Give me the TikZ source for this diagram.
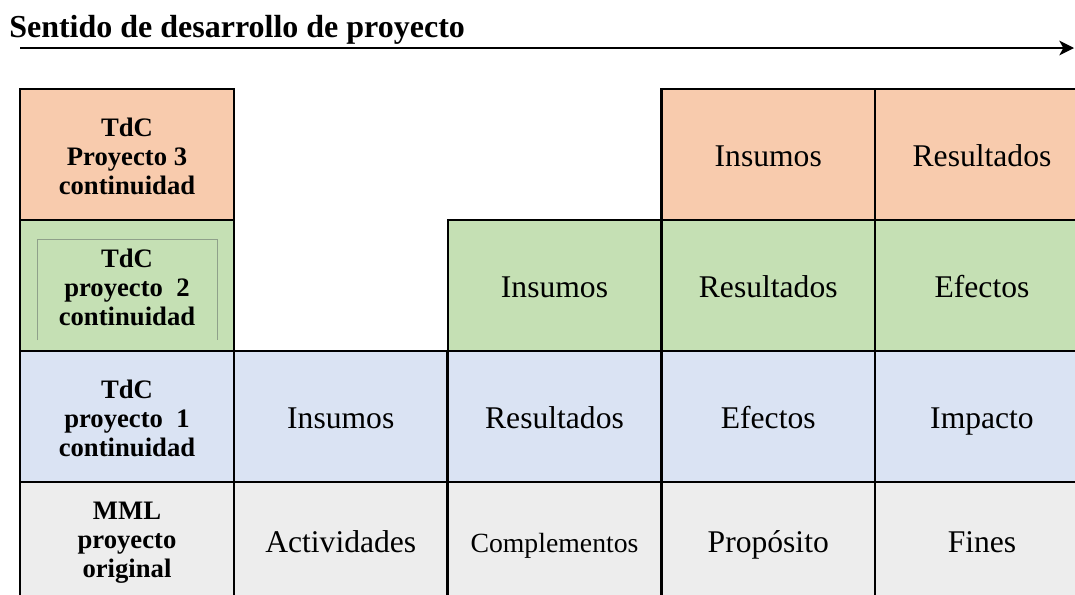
\documentclass[tikz,border=0pt]{standalone}
\usepackage{fontspec}
\setmainfont{Liberation Serif}
\usetikzlibrary{arrows.meta}
\definecolor{peach}{HTML}{F8CBAD}
\definecolor{lgreen}{HTML}{C5E0B4}
\definecolor{lblue}{HTML}{DAE3F3}
\definecolor{lgray}{HTML}{EDEDED}
\definecolor{framegray}{HTML}{8FA08A}
\begin{document}
\begin{tikzpicture}[x=0.75pt,y=-0.75pt,
  cell/.style={draw=black, line width=1.7pt, minimum width=160.3pt, minimum height=98.25pt,
    inner sep=0pt, outer sep=0pt, align=center, text height=22pt, text depth=4pt,
    font=\fontsize{23.7}{28}\selectfont},
  lowcell/.style={cell, minimum height=87pt},
  labtext/.style={inner sep=0pt, align=center, font=\fontsize{20}{21.9}\selectfont\bfseries},
  small/.style={font=\fontsize{20.8}{25}\selectfont},
]
\useasboundingbox (0,0) rectangle (1075,594);
\node[anchor=base west, font=\fontsize{24}{28}\selectfont\bfseries, inner sep=0pt] (title) at (9,37) {Sentido de desarrollo de proyecto};
\coordinate (a0) at (20,48);
\coordinate (a1) at (1074,48);
\draw[line width=1.1pt, -{Stealth[length=11pt,width=11pt,inset=3pt]}] (a0) -- (a1);
\begin{scope}
\clip (0,60) rectangle (1075,594);
% row 1 (orange)
\node[cell, fill=peach] (o1) at (127,154.5) {};
\node[cell, fill=peach] (o4) at (768.25,154.5) {Insumos};
\node[cell, fill=peach] (o5) at (982,154.5) {Resultados};
% row 2 (green)
\node[cell, fill=lgreen] (g1) at (127,285.5) {};
\node[cell, fill=lgreen] (g3) at (554.5,285.5) {Insumos};
\node[cell, fill=lgreen] (g4) at (768.25,285.5) {Resultados};
\node[cell, fill=lgreen] (g5) at (982,285.5) {Efectos};
% row 3 (blue)
\node[cell, fill=lblue] (b1) at (127,416.5) {};
\node[cell, fill=lblue] (b2) at (340.75,416.5) {Insumos};
\node[cell, fill=lblue] (b3) at (554.5,416.5) {Resultados};
\node[cell, fill=lblue] (b4) at (768.25,416.5) {Efectos};
\node[cell, fill=lblue] (b5) at (982,416.5) {Impacto};
% row 4 (gray)
\node[lowcell, fill=lgray] (m1) at (127,540) {};
\node[lowcell, fill=lgray] (m2) at (340.75,540) {Actividades};
\node[lowcell, fill=lgray, small] (m3) at (554.5,540) {Complementos};
\node[lowcell, fill=lgray] (m4) at (768.25,540) {Propósito};
\node[lowcell, fill=lgray] (m5) at (982,540) {Fines};
\end{scope}
% left column labels
\node[labtext] (o1t) at (127,156.5) {TdC\\Proyecto 3\\continuidad};
\node[labtext] (g1t) at (127,287.5) {TdC\\proyecto\hspace{0.5em}2\\continuidad};
\node[labtext] (b1t) at (127,418.5) {TdC\\proyecto\hspace{0.5em}1\\continuidad};
\node[labtext] (m1t) at (127,542.5) {MML\\proyecto\\original};
% inner frame in green label cell
\draw[draw=framegray, line width=0.7pt] (37,340) -- (37,239) -- (217,239) -- (217,340);
\end{tikzpicture}
\end{document}
